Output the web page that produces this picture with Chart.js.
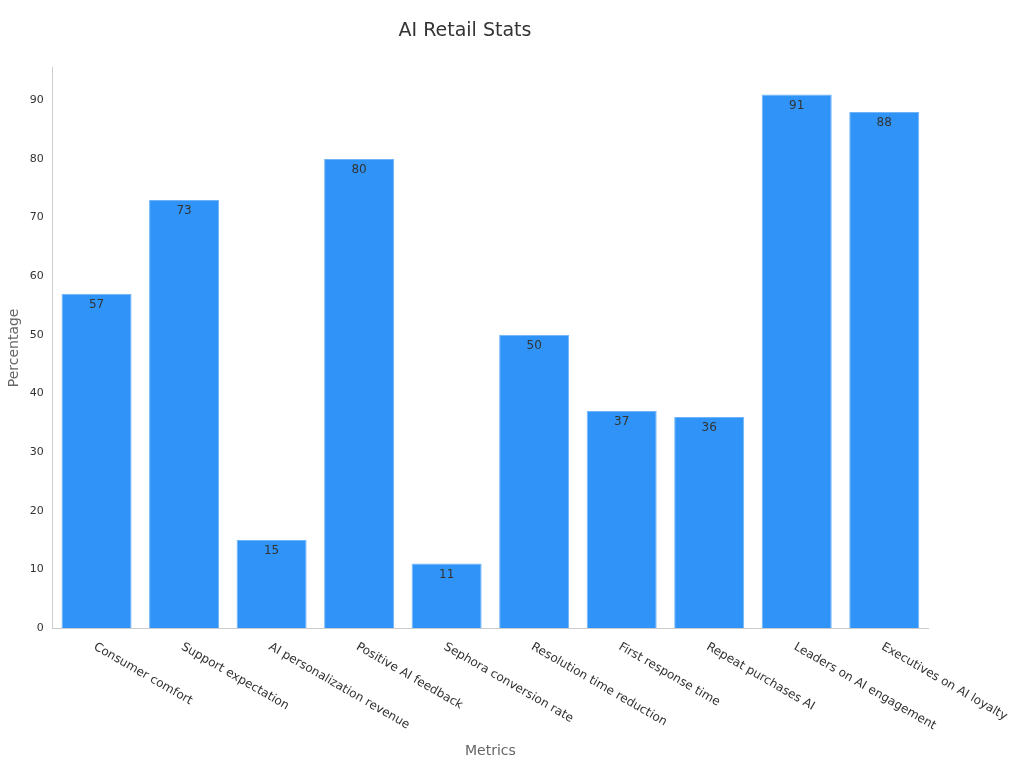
<!DOCTYPE html>
<html>
<head>
<meta charset="utf-8">
<script src="https://cdn.jsdelivr.net/npm/chart.js@4/dist/chart.umd.min.js"></script>
<style>
  html, body { margin: 0; padding: 0; background: #fff; }
  #wrap { width: 1024px; height: 768px; }
</style>
</head>
<body>
<div id="wrap"><canvas id="chart" width="1024" height="768"></canvas></div>
<script>
const categories = ['Consumer comfort', 'Support expectation', 'AI personalization revenue', 'Positive AI feedback',
    'Sephora conversion rate', 'Resolution time reduction', 'First response time', 'Repeat purchases AI',
    'Leaders on AI engagement', 'Executives on AI loyalty'];
const percentages = [57, 73, 15, 80, 11, 50, 37, 36, 91, 88];

const fontFamily = '"DejaVu Sans", "Noto Sans", sans-serif';

// draws value labels inside bar tops, slanted category labels and the x title
const labelsPlugin = {
    id: 'labels',
    afterDatasetsDraw(chart) {
        const ctx = chart.ctx;
        const meta = chart.getDatasetMeta(0);
        ctx.save();
        ctx.font = '12px ' + fontFamily;
        ctx.fillStyle = '#333';
        ctx.textAlign = 'center';
        ctx.textBaseline = 'top';
        meta.data.forEach((bar, i) => {
            ctx.fillText(percentages[i], bar.x, bar.y + 5);
        });

        const xScale = chart.scales.x;
        const base = chart.chartArea.bottom + 12;
        ctx.textAlign = 'left';
        ctx.textBaseline = 'middle';
        categories.forEach((label, i) => {
            const x = xScale.getPixelForTick(i);
            ctx.save();
            ctx.translate(x - 2, base + 6);
            ctx.rotate(Math.PI / 6);
            ctx.fillText(label, 0, 0);
            ctx.restore();
        });

        ctx.font = '14px ' + fontFamily;
        ctx.fillStyle = '#666';
        ctx.textAlign = 'center';
        ctx.fillText('Metrics', (chart.chartArea.left + chart.chartArea.right) / 2, 751);
        ctx.restore();
    }
};

new Chart(document.getElementById('chart'), {
    type: 'bar',
    data: {
        labels: categories,
        datasets: [{
            data: percentages,
            backgroundColor: '#2f93f8',
            borderColor: '#6fb4fa',
            borderWidth: 1,
            categoryPercentage: 1,
            barPercentage: 0.8
        }]
    },
    options: {
        responsive: false,
        animation: false,
        devicePixelRatio: 1,
        layout: { padding: { left: 2, right: 96, top: 10, bottom: 134 } },
        plugins: {
            legend: { display: false },
            tooltip: { enabled: false },
            title: {
                display: true,
                text: 'AI Retail Stats',
                color: '#333',
                font: { family: fontFamily, size: 19, weight: 'normal' },
                padding: { top: 10, bottom: 25 }
            }
        },
        scales: {
            x: {
                grid: { display: false, drawTicks: true, tickLength: 6, color: '#ccc' },
                border: { color: '#ccc' },
                ticks: { display: false }
            },
            y: {
                min: 0,
                max: 95.55,
                grid: { display: false, drawTicks: true, tickLength: 6, color: '#999' },
                border: { color: '#ccc' },
                ticks: {
                    stepSize: 10,
                    color: '#333',
                    font: { family: fontFamily, size: 11 },
                    callback: v => (v % 10 === 0 ? v : '')
                },
                title: {
                    display: true,
                    text: 'Percentage',
                    color: '#666',
                    font: { family: fontFamily, size: 14 }
                }
            }
        }
    },
    plugins: [labelsPlugin]
});
</script>
</body>
</html>
